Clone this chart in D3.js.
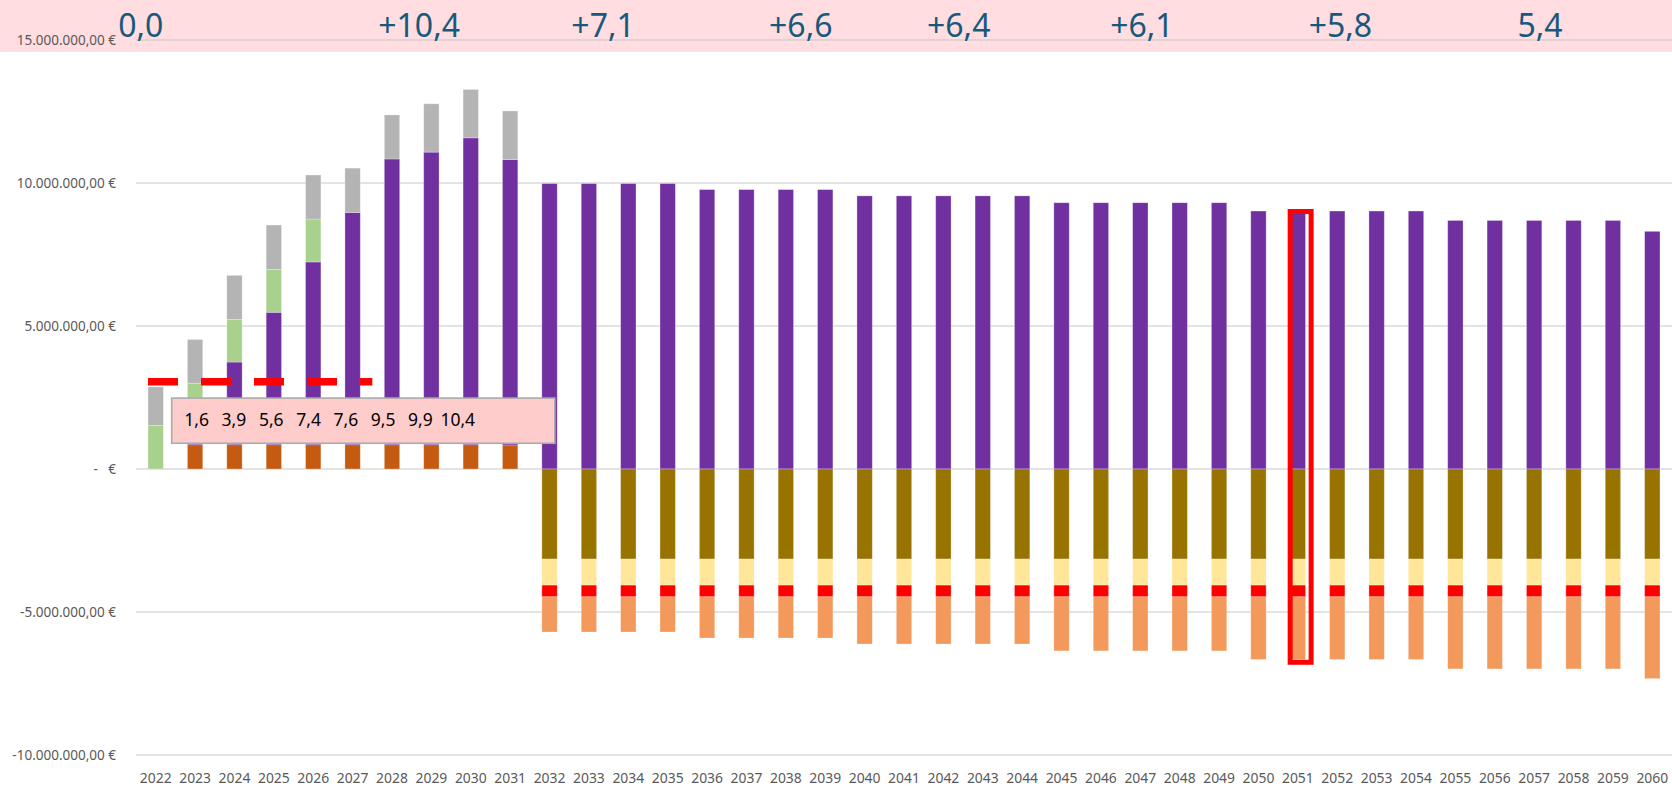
<!DOCTYPE html>
<html>
<head>
<meta charset="utf-8">
<script src="https://cdn.jsdelivr.net/npm/d3@7/dist/d3.min.js"></script>
<style>
	body { margin: 0; background: #fff; }
	svg text { font-family: "Noto Sans", "Open Sans", sans-serif; }
</style>
</head>
<body>
<svg id="chart" width="1672" height="786"></svg>
<script>
// values in million euro
var years = [2022, 2023, 2024, 2025, 2026, 2027, 2028, 2029, 2030, 2031,
	2032, 2033, 2034, 2035, 2036, 2037, 2038, 2039, 2040, 2041,
	2042, 2043, 2044, 2045, 2046, 2047, 2048, 2049, 2050, 2051,
	2052, 2053, 2054, 2055, 2056, 2057, 2058, 2059, 2060];

var darkOrange = [0, 0.85, 0.85, 0.85, 0.85, 0.85, 0.85, 0.85, 0.85, 0.84,
	0, 0, 0, 0, 0, 0, 0, 0, 0, 0,
	0, 0, 0, 0, 0, 0, 0, 0, 0, 0,
	0, 0, 0, 0, 0, 0, 0, 0, 0];
var purple = [0, 0.75, 2.89, 4.63, 6.39, 8.12, 9.99, 10.23, 10.73, 9.98,
	9.98, 9.98, 9.98, 9.98, 9.77, 9.77, 9.77, 9.77, 9.55, 9.55,
	9.55, 9.55, 9.55, 9.31, 9.31, 9.31, 9.31, 9.31, 9.02, 9.02,
	9.02, 9.02, 9.02, 8.69, 8.69, 8.69, 8.69, 8.69, 8.31];
var green = [1.52, 1.40, 1.49, 1.50, 1.50, 0, 0, 0, 0, 0,
	0, 0, 0, 0, 0, 0, 0, 0, 0, 0,
	0, 0, 0, 0, 0, 0, 0, 0, 0, 0,
	0, 0, 0, 0, 0, 0, 0, 0, 0];
var grey = [1.35, 1.53, 1.54, 1.55, 1.54, 1.55, 1.54, 1.69, 1.69, 1.70,
	0, 0, 0, 0, 0, 0, 0, 0, 0, 0,
	0, 0, 0, 0, 0, 0, 0, 0, 0, 0,
	0, 0, 0, 0, 0, 0, 0, 0, 0];
var olive = [0, 0, 0, 0, 0, 0, 0, 0, 0, 0,
	-3.15, -3.15, -3.15, -3.15, -3.15, -3.15, -3.15, -3.15, -3.15, -3.15,
	-3.15, -3.15, -3.15, -3.15, -3.15, -3.15, -3.15, -3.15, -3.15, -3.15,
	-3.15, -3.15, -3.15, -3.15, -3.15, -3.15, -3.15, -3.15, -3.15];
var paleYellow = [0, 0, 0, 0, 0, 0, 0, 0, 0, 0,
	-0.91, -0.91, -0.91, -0.91, -0.91, -0.91, -0.91, -0.91, -0.91, -0.91,
	-0.91, -0.91, -0.91, -0.91, -0.91, -0.91, -0.91, -0.91, -0.91, -0.91,
	-0.91, -0.91, -0.91, -0.91, -0.91, -0.91, -0.91, -0.91, -0.91];
var red = [0, 0, 0, 0, 0, 0, 0, 0, 0, 0,
	-0.41, -0.41, -0.41, -0.41, -0.41, -0.41, -0.41, -0.41, -0.41, -0.41,
	-0.41, -0.41, -0.41, -0.41, -0.41, -0.41, -0.41, -0.41, -0.41, -0.41,
	-0.41, -0.41, -0.41, -0.41, -0.41, -0.41, -0.41, -0.41, -0.41];
var lightOrange = [0, 0, 0, 0, 0, 0, 0, 0, 0, 0,
	-1.23, -1.23, -1.23, -1.23, -1.44, -1.44, -1.44, -1.44, -1.65, -1.65,
	-1.65, -1.65, -1.65, -1.89, -1.89, -1.89, -1.89, -1.89, -2.19, -2.19,
	-2.19, -2.19, -2.19, -2.52, -2.52, -2.52, -2.52, -2.52, -2.86];

var targetYears = [2022, 2023, 2024, 2025, 2026, 2027];
var targetValue = 3.05;
var highlightYear = 2051;

var yTicks = [-10, -5, 0, 5, 10, 15];
var yTickLabels = ['-10.000.000,00 €', '-5.000.000,00 €', '-   €', '5.000.000,00 €', '10.000.000,00 €', '15.000.000,00 €'];

var boxLabels = ['1,6', '3,9', '5,6', '7,4', '7,6', '9,5', '9,9', '10,4'];
var topLabels = ['0,0', '+10,4', '+7,1', '+6,6', '+6,4', '+6,1', '+5,8', '5,4'];
var topLabelYears = [2021.62, 2028.69, 2033.36, 2038.38, 2042.39, 2047.04, 2052.08, 2057.15];

var seriesKeys = ['darkOrange', 'purple', 'green', 'grey', 'olive', 'paleYellow', 'red', 'lightOrange'];
var seriesColors = {
	darkOrange: '#C55A11', purple: '#7030A0', green: '#A9D18E', grey: '#B4B4B4',
	olive: '#997300', paleYellow: '#FFE699', red: '#FF0000', lightOrange: '#F2995B'
};

function ChartView(svg) {
	this.svg = svg;
	this.left = 136;
	this.right = 1672;
	this.x = d3.scaleBand()
		.domain(years)
		.range([this.left, this.right])
		.paddingInner(0.61)
		.paddingOuter(0.305);
	this.y = d3.scaleLinear()
		.domain([-10, 15])
		.range([755, 40]);
	var bw = this.x.bandwidth();
	this.yearPos = d3.scaleLinear()
		.domain([2022, 2060])
		.range([this.x(2022) + bw / 2, this.x(2060) + bw / 2]);
};

ChartView.prototype = {
	draw: function() {
		this.drawBand();
		this.drawGrid();
		this.drawBars();
		this.drawTargetLine();
		this.drawNoteBox();
		this.drawHighlight();
		this.drawAxes();
		this.drawTopLabels();
	},
	drawBand: function() {
		this.svg.append('rect')
			.attr('x', 0).attr('y', 0)
			.attr('width', 1672).attr('height', 52)
			.attr('fill', '#FFDDE0');
	},
	drawGrid: function() {
		var that = this;
		this.svg.append('g')
			.selectAll('line')
			.data(yTicks)
			.enter()
			.append('line')
			.attr('x1', this.left)
			.attr('x2', this.right)
			.attr('y1', function(d) { return that.y(d); })
			.attr('y2', function(d) { return that.y(d); })
			.attr('stroke', '#BFBFBF')
			.attr('stroke-opacity', 0.6)
			.attr('stroke-width', 1.3);
	},
	drawBars: function() {
		var that = this;
		var source = { darkOrange: darkOrange, purple: purple, green: green, grey: grey,
			olive: olive, paleYellow: paleYellow, red: red, lightOrange: lightOrange };
		var rows = years.map(function(year, i) {
			var row = { year: year };
			seriesKeys.forEach(function(k) { row[k] = source[k][i]; });
			return row;
		});
		var stacked = d3.stack()
			.keys(seriesKeys)
			.offset(d3.stackOffsetDiverging)(rows);

		this.svg.append('g')
			.selectAll('g')
			.data(stacked)
			.enter()
			.append('g')
			.attr('fill', function(s) { return seriesColors[s.key]; })
			.selectAll('rect')
			.data(function(s) { return s.filter(function(d) { return d[1] - d[0] != 0; }); })
			.enter()
			.append('rect')
			.attr('x', function(d) { return that.x(d.data.year); })
			.attr('width', this.x.bandwidth())
			.attr('y', function(d) { return that.y(Math.max(d[0], d[1])); })
			.attr('height', function(d) { return Math.abs(that.y(d[0]) - that.y(d[1])); })
			.attr('stroke', '#fff')
			.attr('stroke-opacity', 0.35)
			.attr('stroke-width', 0.8);
	},
	drawTargetLine: function() {
		var step = this.x.step();
		var first = targetYears[0];
		var last = targetYears[targetYears.length - 1];
		var pts = [
			[this.x(first), this.y(targetValue)],
			[this.x(last) + this.x.bandwidth() / 2 + step / 2, this.y(targetValue)]
		];
		this.svg.append('path')
			.attr('d', d3.line()(pts))
			.attr('stroke', '#FF0000')
			.attr('stroke-width', 7.7)
			.attr('stroke-dasharray', '30,23')
			.attr('fill', 'none');
	},
	drawNoteBox: function() {
		var left = this.x(2022) + this.x.bandwidth() + 8.3;
		var right = this.x(2032) + 13;
		var top = this.y(2.48);
		var bottom = this.y(0.9);
		var g = this.svg.append('g');
		g.append('rect')
			.attr('x', left).attr('y', top)
			.attr('width', right - left).attr('height', bottom - top)
			.attr('fill', '#FFCCCC')
			.attr('stroke', '#ABABAB')
			.attr('stroke-width', 1.6);
		var labelX = d3.scaleLinear().domain([0, 1]).range([left + 25, left + 62.3]);
		g.selectAll('text')
			.data(boxLabels)
			.enter()
			.append('text')
			.attr('x', function(d, i) { return labelX(i); })
			.attr('y', top + 27.5)
			.attr('text-anchor', 'middle')
			.attr('font-size', 17.5)
			.attr('fill', '#000')
			.text(function(d) { return d; });
	},
	drawHighlight: function() {
		var i = years.indexOf(highlightYear);
		var topVal = darkOrange[i] + purple[i] + green[i] + grey[i];
		var bottomVal = olive[i] + paleYellow[i] + red[i] + lightOrange[i];
		var x0 = this.x(highlightYear);
		this.svg.append('rect')
			.attr('x', x0)
			.attr('y', this.y(topVal) + 0.5)
			.attr('width', this.x.bandwidth() + 5.6)
			.attr('height', this.y(bottomVal) - this.y(topVal) + 2.3)
			.attr('fill', 'none')
			.attr('stroke', '#FF0000')
			.attr('stroke-width', 5);
	},
	drawAxes: function() {
		var yAxis = d3.axisLeft(this.y)
			.tickValues(yTicks)
			.tickSize(0)
			.tickPadding(20)
			.tickFormat(function(d, i) { return yTickLabels[i]; });
		var gy = this.svg.append('g')
			.attr('transform', 'translate(' + this.left + ',0)')
			.call(yAxis);
		gy.select('.domain').remove();
		gy.selectAll('text')
			.attr('font-family', '"Noto Sans", sans-serif')
			.attr('font-size', 13.5)
			.attr('fill', '#595959')
			.style('white-space', 'pre');

		var xAxis = d3.axisBottom(this.x)
			.tickSize(0)
			.tickPadding(18);
		var gx = this.svg.append('g')
			.attr('transform', 'translate(0,' + this.y(-10) + ')')
			.call(xAxis);
		gx.select('.domain').remove();
		gx.selectAll('text')
			.attr('font-family', '"Noto Sans", sans-serif')
			.attr('font-size', 13.9)
			.attr('fill', '#595959');
	},
	drawTopLabels: function() {
		var that = this;
		this.svg.append('g')
			.selectAll('text')
			.data(topLabels)
			.enter()
			.append('text')
			.attr('x', function(d, i) { return that.yearPos(topLabelYears[i]); })
			.attr('y', 37)
			.attr('text-anchor', 'middle')
			.attr('font-size', 32)
			.attr('fill', '#17597C')
			.text(function(d) { return d; });
	}
};

var view = new ChartView(d3.select('#chart'));
view.draw();
</script>
</body>
</html>
